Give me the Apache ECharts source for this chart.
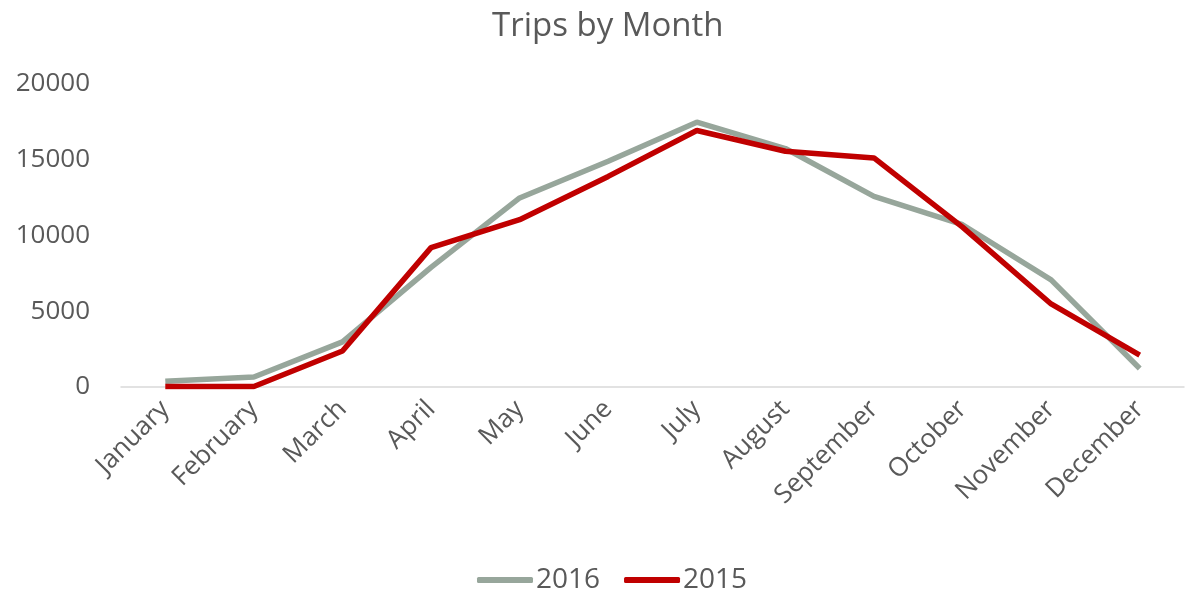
<!DOCTYPE html>
<html>
<head>
<meta charset="utf-8">
<script src="https://cdn.jsdelivr.net/npm/echarts@6/dist/echarts.min.js"></script>
<style>
  html, body { margin: 0; padding: 0; background: #fff; }
  #main { width: 1191px; height: 593px; }
</style>
</head>
<body>
<div id="main"></div>
<script>
var months = ['January', 'February', 'March', 'April', 'May', 'June',
              'July', 'August', 'September', 'October', 'November', 'December'];
var trips2016 = [380, 660, 2980, 7900, 12480, 14900, 17480, 15740, 12580, 10710, 7070, 1220];
var trips2015 = [30, 30, 2380, 9200, 11040, 13900, 16930, 15560, 15120, 10550, 5480, 2100];

var myChart = echarts.init(document.getElementById('main'));
var font = '"Open Sans", sans-serif';

option = {
    backgroundColor: '#ffffff',
    animation: false,
    title: {
        text: 'Trips by Month',
        left: 487,
        top: 5,
        textStyle: { fontFamily: font, fontSize: 33, fontWeight: 'normal', color: '#595959' }
    },
    legend: {
        top: 561,
        left: 472,
        icon: 'roundRect',
        itemWidth: 56,
        itemHeight: 6,
        itemGap: 24,
        data: ['2016', '2015'],
        textStyle: { fontFamily: font, fontSize: 28, color: '#595959', padding: [0, 0, 0, -2] }
    },
    grid: { left: 121, right: 7, top: 84, bottom: 206 },
    xAxis: {
        type: 'category',
        data: months,
        boundaryGap: true,
        axisLine: { lineStyle: { color: '#d9d9d9', width: 1.5 } },
        axisTick: { show: false },
        axisLabel: { rotate: 45, margin: 18, interval: 0, fontFamily: font, fontSize: 26, color: '#595959' }
    },
    yAxis: {
        type: 'value',
        min: 0,
        max: 20000,
        interval: 5000,
        axisLine: { show: false },
        axisTick: { show: false },
        splitLine: { show: false },
        axisLabel: {
            margin: 31, fontFamily: font, fontSize: 26, color: '#595959',
            formatter: function(v) { return String(v); }
        }
    },
    series: [{
        name: '2016',
        type: 'line',
        data: trips2016,
        symbol: 'none',
        itemStyle: { color: '#97a69b' },
        lineStyle: { color: '#97a69b', width: 5.5 }
    }, {
        name: '2015',
        type: 'line',
        data: trips2015,
        symbol: 'none',
        itemStyle: { color: '#c00000' },
        lineStyle: { color: '#c00000', width: 5.5 }
    }]
};

myChart.setOption(option);
window.onresize = function() {
    myChart.resize();
};
</script>
</body>
</html>
